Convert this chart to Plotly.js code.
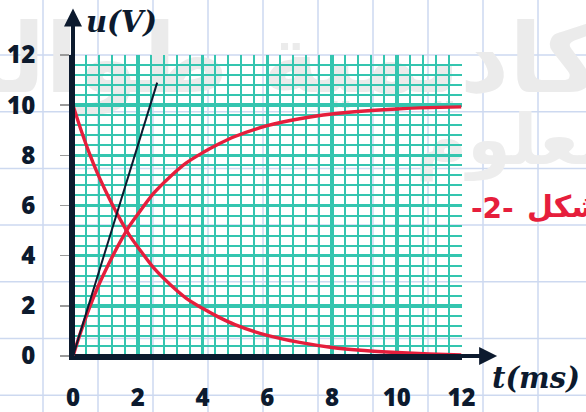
<!DOCTYPE html>
<html>
<head>
<meta charset="utf-8">
<script src="https://cdn.plot.ly/plotly-3.0.1.min.js"></script>
<style>
  html, body { margin: 0; padding: 0; background: #ffffff; }
  #chart { width: 586px; height: 412px; }
</style>
</head>
<body>
<div id="chart"></div>
<script>
// Time samples (ms)
const tMs = [0, 0.25, 0.5, 0.75, 1, 1.25, 1.5, 1.75, 2, 2.5, 3, 3.5, 4, 4.5, 5, 6, 7, 8, 9, 10, 11, 12];
// Capacitor voltage while charging (V)
const uCharge = [0, 1.0, 1.9, 2.7, 3.4, 4.05, 4.65, 5.2, 5.65, 6.5, 7.15, 7.7, 8.1, 8.45, 8.75, 9.18, 9.46, 9.65, 9.77, 9.85, 9.9, 9.93];
// Resistor voltage (V), falling
const uResistor = [10, 9.0, 8.1, 7.3, 6.6, 5.95, 5.35, 4.8, 4.35, 3.5, 2.85, 2.3, 1.9, 1.55, 1.25, 0.82, 0.54, 0.34, 0.22, 0.14, 0.08, 0.04];
// Tangent at the origin
const tangentT = [0, 2.6];
const tangentU = [0, 10.9];
// Axis ticks
const xTicks = [0, 2, 4, 6, 8, 10, 12];
const yTicks = [0, 2, 4, 6, 8, 10, 12];

const W = 586, H = 412;
const NAVY = '#0c1a2e';
const TEAL = '#34c5af';
const RED = '#e61e3c';
const PAGE_GRID = '#cdd9f0';

// plot box in pixels
const box = { left: 73, right: 461.5, top: 55, bottom: 356 };
const fx = px => px / W;
const fy = py => 1 - py / H;

const shapes = [];
// faint page grid behind everything
for (let x = 43; x < W; x += 55) {
  shapes.push({ type: 'line', xref: 'paper', yref: 'paper', x0: fx(x), x1: fx(x), y0: 0, y1: 1,
    line: { color: PAGE_GRID, width: 1.5 }, layer: 'below' });
}
for (let y = 55; y < H; y += 56.7) {
  shapes.push({ type: 'line', xref: 'paper', yref: 'paper', x0: 0, x1: 1, y0: fy(y), y1: fy(y),
    line: { color: PAGE_GRID, width: 1.5 }, layer: 'below' });
}
// watermark
shapes.push({ type: 'rect', xref: 'paper', yref: 'paper', x0: fx(0), x1: fx(640), y0: fy(110), y1: fy(0),
  line: { width: 0 }, fillcolor: 'rgba(0,0,0,0)', layer: 'below',
  label: { text: 'أكاديمية طوالبي', textposition: 'middle right',
    font: { family: 'DejaVu Sans', size: 96, weight: 'bold', color: '#ebebeb' } } });
shapes.push({ type: 'rect', xref: 'paper', yref: 'paper', x0: fx(200), x1: fx(640), y0: fy(170), y1: fy(100),
  line: { width: 0 }, fillcolor: 'rgba(0,0,0,0)', layer: 'below',
  label: { text: 'للعلوم', textposition: 'middle right',
    font: { family: 'DejaVu Sans', size: 70, weight: 'bold', color: '#ededed' } } });

const traces = [
  { x: tMs, y: uResistor, mode: 'lines', line: { color: RED, width: 3.4, shape: 'spline', smoothing: 0.8 }, hoverinfo: 'skip' },
  { x: tMs, y: uCharge, mode: 'lines', line: { color: RED, width: 3.4, shape: 'spline', smoothing: 0.8 }, hoverinfo: 'skip' },
  { x: tangentT, y: tangentU, mode: 'lines', line: { color: NAVY, width: 2 }, hoverinfo: 'skip' }
];

const tickFont = { family: 'Open Sans', size: 24, weight: 800, color: NAVY };
const titleFont = { family: 'DejaVu Serif', size: 29, weight: 'bold', style: 'italic', color: NAVY };

const layout = {
  width: W, height: H,
  margin: { l: 0, r: 0, t: 0, b: 0 },
  paper_bgcolor: '#ffffff',
  plot_bgcolor: 'rgba(0,0,0,0)',
  showlegend: false,
  xaxis: {
    domain: [fx(box.left), fx(box.right)], range: [0, 12],
    tickmode: 'array', tickvals: xTicks, ticktext: xTicks.map(String),
    showgrid: true, gridcolor: TEAL, gridwidth: 3.5,
    minor: { dtick: 0.4, tick0: 0, showgrid: true, gridcolor: TEAL, gridwidth: 2 },
    zeroline: false, showline: true, linecolor: NAVY, linewidth: 4,
    ticks: '', ticklabelstandoff: 17, tickfont: tickFont, fixedrange: true
  },
  yaxis: {
    domain: [fy(box.bottom), fy(box.top)], range: [0, 12],
    tickmode: 'array', tickvals: yTicks, ticktext: yTicks.map(String),
    showgrid: true, gridcolor: TEAL, gridwidth: 3.5,
    minor: { dtick: 0.4, tick0: 0, showgrid: true, gridcolor: TEAL, gridwidth: 2 },
    zeroline: false, showline: true, linecolor: NAVY, linewidth: 4,
    ticks: 'outside', ticklen: 9, tickcolor: '#9a9a9a', tickwidth: 1.5,
    ticklabelstandoff: 20, tickfont: tickFont, fixedrange: true
  },
  shapes: shapes,
  annotations: [
    // axis arrows
    { x: 0, y: 13.85, ax: 0, ay: 0, xref: 'x', yref: 'y', axref: 'x', ayref: 'y', text: '',
      showarrow: true, arrowhead: 2, arrowsize: 0.9, arrowwidth: 4, arrowcolor: NAVY },
    { x: 13.1, y: 0, ax: 0, ay: 0, xref: 'x', yref: 'y', axref: 'x', ayref: 'y', text: '',
      showarrow: true, arrowhead: 2, arrowsize: 0.9, arrowwidth: 4, arrowcolor: NAVY },
    // axis titles
    { x: fx(84), y: fy(22), xref: 'paper', yref: 'paper', xanchor: 'left', yanchor: 'middle',
      text: 'u(V)', showarrow: false, font: titleFont },
    { x: fx(490), y: fy(378), xref: 'paper', yref: 'paper', xanchor: 'left', yanchor: 'middle',
      text: 't(ms)', showarrow: false, font: titleFont },
    // figure caption
    { x: fx(469), y: fy(208), xref: 'paper', yref: 'paper', xanchor: 'left', yanchor: 'middle',
      text: '-2-', showarrow: false, font: { family: 'DejaVu Sans', size: 28, weight: 'bold', color: RED } },
    { x: fx(525), y: fy(206), xref: 'paper', yref: 'paper', xanchor: 'left', yanchor: 'middle',
      text: 'شكل', showarrow: false, font: { family: 'DejaVu Sans', size: 30, weight: 'bold', color: RED } }
  ]
};

Plotly.newPlot('chart', traces, layout, { staticPlot: true, displayModeBar: false });
</script>
</body>
</html>
